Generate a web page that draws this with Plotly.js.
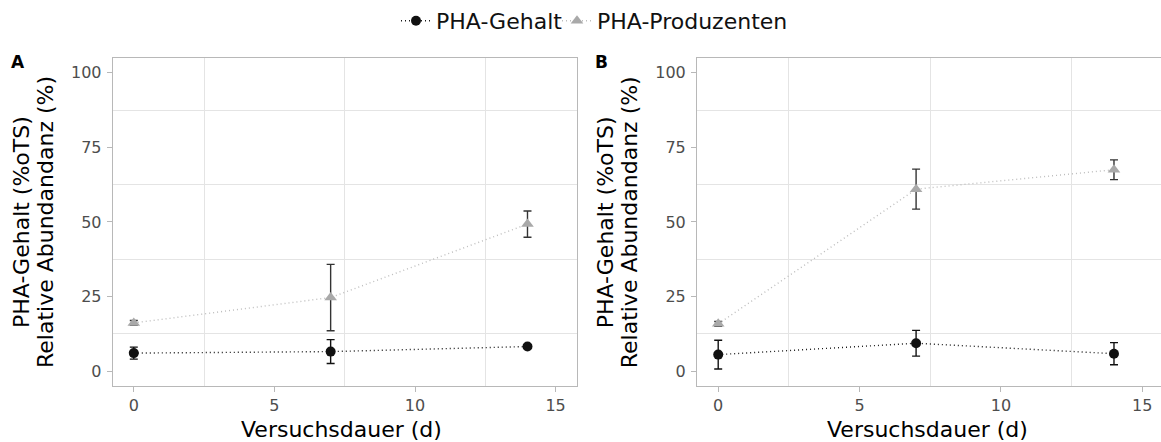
<!DOCTYPE html>
<html>
<head>
<meta charset="utf-8">
<script src="https://cdn.plot.ly/plotly-3.0.1.min.js"></script>
<style>
  html, body { margin: 0; padding: 0; background: #ffffff; }
  #chart { width: 1161px; height: 442px; }
</style>
</head>
<body>
<div id="chart"></div>
<script>
// ---- data ----
const days = [0, 7, 14];
const seriesNames = ["PHA-Gehalt", "PHA-Produzenten"];

const gehaltA = [6.1, 6.6, 8.3];
const gehaltA_sd = [2.0, 4.0, 0.6];
const produzentenA = [16.2, 24.7, 49.3];
const produzentenA_sd = [0.8, 11.1, 4.4];

const gehaltB = [5.6, 9.4, 5.9];
const gehaltB_sd = [4.8, 4.3, 3.7];
const produzentenB = [15.9, 61.0, 67.5];
const produzentenB_sd = [0.8, 6.7, 3.3];

const xTicks = [0, 5, 10, 15];
const yTicks = [0, 25, 50, 75, 100];
const xGrid = [2.5, 7.5, 12.5];
const yGrid = [12.5, 37.5, 62.5, 87.5];
const panelLabels = ["A", "B"];
const xTitle = "Versuchsdauer (d)";
const yTitleLines = ["PHA-Gehalt (%oTS)", "Relative Abundandanz (%)"];

// ---- styles ----
const FONT = "DejaVu Sans, Liberation Sans, sans-serif";
const circleColor = "#111111";
const triColor = "#a9a9a9";

function gehaltTrace(y, sd, xa, ya, show) {
  return {
    x: days, y: y, xaxis: xa, yaxis: ya,
    type: "scatter", mode: "lines+markers",
    name: seriesNames[0], showlegend: show, legend: "legend",
    line: { color: "#1a1a1a", width: 1.4, dash: "1px,3px" },
    marker: { symbol: "circle", size: 10, color: circleColor },
    error_y: { type: "data", array: sd, visible: true, color: "#111111", thickness: 1.4, width: 4 },
    cliponaxis: false
  };
}
function prodTrace(y, sd, xa, ya, show) {
  return {
    x: days, y: y, xaxis: xa, yaxis: ya,
    type: "scatter", mode: "lines+markers",
    name: seriesNames[1], showlegend: show, legend: "legend2",
    line: { color: "#bdbdbd", width: 1.4, dash: "1px,3px" },
    marker: { symbol: "triangle-up", size: 11, color: triColor },
    error_y: { type: "data", array: sd, visible: true, color: "#333333", thickness: 1.4, width: 4 },
    cliponaxis: false
  };
}

const data = [
  prodTrace(produzentenA, produzentenA_sd, "x", "y", true),
  gehaltTrace(gehaltA, gehaltA_sd, "x", "y", true),
  prodTrace(produzentenB, produzentenB_sd, "x2", "y2", false),
  gehaltTrace(gehaltB, gehaltB_sd, "x2", "y2", false)
];

const W = 1161, H = 442;
const plotTop = 56, plotBottom = 386;
const yDomain = [1 - plotBottom / H, 1 - plotTop / H];

function xAxis(domain, range, anchor) {
  return {
    domain: domain, range: range, anchor: anchor,
    tickmode: "array", tickvals: xTicks, ticktext: xTicks.map(String),
    showgrid: false, zeroline: false,
    minor: { tickmode: "array", tickvals: xGrid, showgrid: true, gridcolor: "#e4e4e4", gridwidth: 1, ticks: "" },
    showline: true, linecolor: "#b8b8b8", linewidth: 1, mirror: true,
    ticks: "outside", ticklen: 5, tickwidth: 1, tickcolor: "#b8b8b8",
    tickfont: { family: FONT, size: 16, color: "#4d4d4d" },
    ticklabelstandoff: 0,
    fixedrange: true
  };
}
function yAxis(anchor, mirror) {
  return {
    domain: yDomain, range: [-5, 105], anchor: anchor,
    tickmode: "array", tickvals: yTicks, ticktext: yTicks.map(String),
    showgrid: false, zeroline: false,
    minor: { tickmode: "array", tickvals: yGrid, showgrid: true, gridcolor: "#e4e4e4", gridwidth: 1, ticks: "" },
    showline: true, linecolor: "#b8b8b8", linewidth: 1, mirror: mirror,
    ticks: "outside", ticklen: 5, tickwidth: 1, tickcolor: "#b8b8b8",
    tickfont: { family: FONT, size: 16, color: "#4d4d4d" },
    ticklabelstandoff: 2,
    fixedrange: true
  };
}

const aLeft = 112.7, aRight = 576.7, bLeft = 697;
const offsetB = bLeft - aLeft;

const annotations = [];
[0, 1].forEach(function (p) {
  const left = p === 0 ? aLeft : bLeft;
  const right = p === 0 ? aRight : W + 2.5;
  // panel letter
  annotations.push({
    text: "<b>" + panelLabels[p] + "</b>", xref: "paper", yref: "paper",
    x: (left - 104) / W, y: 1 - 48 / H, xanchor: "left", yanchor: "top",
    showarrow: false, font: { family: FONT, size: 17, color: "#000000" }
  });
  // x title
  annotations.push({
    text: xTitle, xref: "paper", yref: "paper",
    x: ((left + right) / 2 - 3) / W, y: 1 - 429 / H, xanchor: "center", yanchor: "middle",
    showarrow: false, font: { family: FONT, size: 22, color: "#000000" }
  });
  // y title lines
  [21, 45].forEach(function (cx, i) {
    annotations.push({
      text: yTitleLines[i], xref: "paper", yref: "paper",
      x: (cx + p * offsetB) / W, y: 1 - 221 / H, xanchor: "center", yanchor: "middle",
      textangle: -90, showarrow: false,
      font: { family: FONT, size: 22, color: "#000000" }
    });
  });
});

function legendBox(leftPx) {
  return {
    orientation: "h", x: leftPx / W, xanchor: "left", y: 1 - 19 / H, yanchor: "middle",
    font: { family: FONT, size: 22, color: "#111111" },
    itemclick: false, itemdoubleclick: false,
    bgcolor: "rgba(0,0,0,0)", borderwidth: 0
  };
}

const layout = {
  width: W, height: H,
  margin: { l: 0, r: 0, t: 0, b: 0 },
  paper_bgcolor: "#ffffff", plot_bgcolor: "#ffffff",
  font: { family: FONT },
  showlegend: true,
  legend: legendBox(396),
  legend2: legendBox(557),
  xaxis: xAxis([aLeft / W, aRight / W], [-0.75, 15.75], "y"),
  yaxis: yAxis("x", true),
  xaxis2: xAxis([bLeft / W, 1], [-0.75, -0.75 + (W - bLeft) / 28.27], "y2"),
  yaxis2: yAxis("x2", false),
  annotations: annotations
};

Plotly.newPlot("chart", data, layout, { staticPlot: true, displayModeBar: false });
</script>
</body>
</html>
